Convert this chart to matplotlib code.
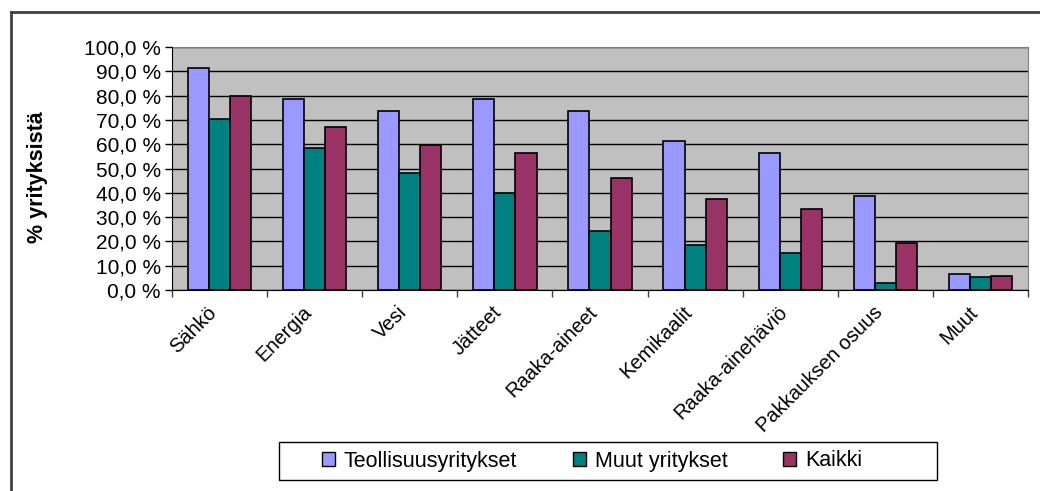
import matplotlib
matplotlib.use("Agg")
import matplotlib.pyplot as plt
from matplotlib.lines import Line2D
from matplotlib.patches import Patch, Rectangle
from matplotlib.ticker import FuncFormatter
import numpy as np

plt.rcParams['font.family'] = ['Liberation Sans', 'DejaVu Sans']

# Data
kategoriat = ['Sähkö', 'Energia', 'Vesi', 'Jätteet', 'Raaka-aineet', 'Kemikaalit',
              'Raaka-ainehäviö', 'Pakkauksen osuus', 'Muut']
teollisuus = [91.5, 78.6, 73.8, 78.6, 73.8, 61.3, 56.5, 38.8, 6.4]
muut_yritykset = [70.4, 58.3, 48.3, 39.8, 24.1, 18.5, 15.4, 3.0, 5.2]
kaikki = [80.0, 67.2, 59.7, 56.5, 46.2, 37.4, 33.5, 19.5, 5.9]
sarjat = ['Teollisuusyritykset', 'Muut yritykset', 'Kaikki']
varit = ['#9999FF', '#008080', '#993366']

fig = plt.figure(figsize=(10.4, 4.91), dpi=100)
ax = fig.add_axes([172/1040, 1-290/491, (1028-172)/1040, (290-47)/491])
ax.set_facecolor('#C0C0C0')

x = np.arange(len(kategoriat))
w = 1/4.5
for i, (arvot, vari) in enumerate(zip([teollisuus, muut_yritykset, kaikki], varit)):
    ax.bar(x + (i-1)*w, arvot, width=w, color=vari, edgecolor='black', linewidth=1.2, zorder=3)

ax.set_xlim(-0.5, len(kategoriat)-0.5)
ax.set_ylim(0, 100)
ax.set_yticks(np.arange(0, 101, 10))
ax.yaxis.set_major_formatter(FuncFormatter(lambda v, p: f'{v:.1f} %'.replace('.', ',')))
ax.grid(axis='y', color='black', linewidth=1, zorder=1)
ax.tick_params(axis='y', direction='out', length=5, width=1, labelsize=15, pad=3)

# tick marks between groups, labels at centres
ax.set_xticks(np.arange(-0.5, len(kategoriat)))
ax.set_xticklabels([])
ax.tick_params(axis='x', direction='out', length=5, width=1, color='#404040')
for xi, nimi in zip(x, kategoriat):
    ax.annotate(nimi, xy=(xi, 0), xycoords=('data', 'axes fraction'),
                xytext=(-9, -9), textcoords='offset points',
                rotation=45, rotation_mode='anchor', ha='right', va='top', fontsize=14.5)

for s in ['top', 'right']:
    ax.spines[s].set_color('#808080')
for s in ['left', 'bottom']:
    ax.spines[s].set_color('black')
    ax.spines[s].set_zorder(4)

ax.set_ylabel('% yrityksistä', fontsize=15.5, fontweight='bold')
ax.yaxis.set_label_coords(-124/856, 0.465)

# legend (Excel style box with wide padding)
fig.add_artist(Rectangle((279/1040, 1-480/491), (937-279)/1040, 38/491,
                         transform=fig.transFigure, facecolor='white',
                         edgecolor='black', linewidth=1))
kahvat = [Patch(facecolor=c, edgecolor='black', linewidth=1) for c in varit]
leg = fig.legend(kahvat, sarjat, loc='center', bbox_to_anchor=(592/1040, 1-461/491),
                 ncol=3, frameon=False, fontsize=15.5,
                 handlelength=0.6, handleheight=0.6, handletextpad=0.4, columnspacing=2.6,
                 borderpad=0.2, borderaxespad=0)

# chart outer border (top and left visible)
fig.add_artist(Line2D([11/1040, 11/1040], [0, 1-12/491], color='#404040', linewidth=2))
fig.add_artist(Line2D([11/1040, 1], [1-12/491, 1-12/491], color='#404040', linewidth=2))

fig.savefig('out.png', dpi=100)
